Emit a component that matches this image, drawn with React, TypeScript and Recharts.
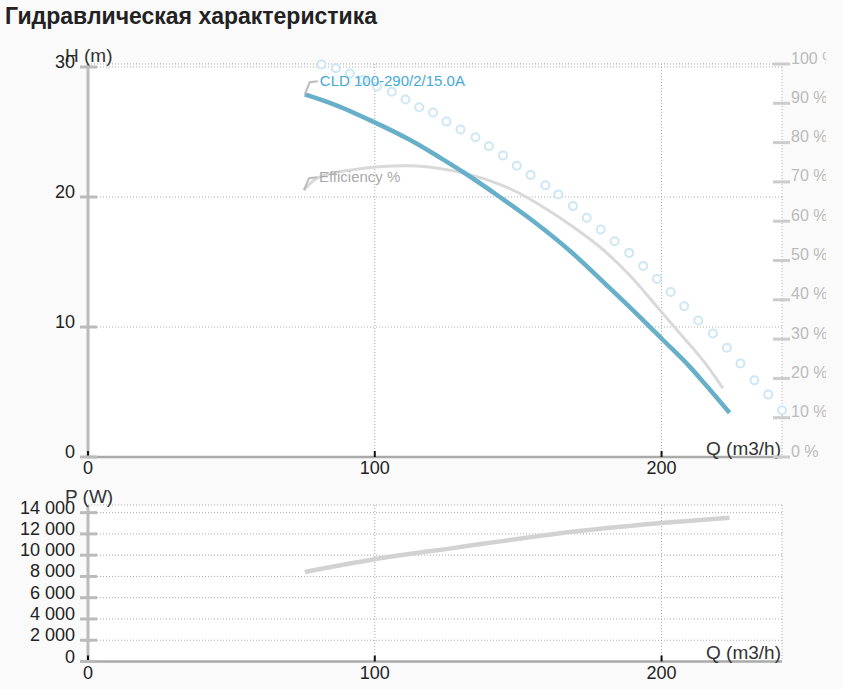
import React from 'react';
import { ComposedChart, Line, XAxis, YAxis, CartesianGrid } from 'recharts';

// ---------- text ----------
const TITLE = 'Гидравлическая характеристика';
const CURVE_NAME = 'CLD 100-290/2/15.0A';
const EFF_NAME = 'Efficiency %';
const H_LABEL = 'H (m)';
const P_LABEL = 'P (W)';
const Q_LABEL = 'Q (m3/h)';

// ---------- ticks ----------
const Q_TICKS = [0, 100, 200];
const H_TICKS = [0, 10, 20, 30];
const EFF_TICKS = [0, 10, 20, 30, 40, 50, 60, 70, 80, 90, 100];
const P_TICKS = [0, 2000, 4000, 6000, 8000, 10000, 12000, 14000];

// ---------- series: head curve H(Q) ----------
const H_Q = [75.6, 85.5, 99.4, 112.2, 122.6, 132.0, 143.6, 155.2, 169.1, 180.7, 192.3, 200.5, 209.8, 215.6, 223.7];
const H_VAL = [27.9, 27.15, 25.8, 24.4, 23.05, 21.75, 20.0, 18.15, 15.65, 13.25, 10.8, 9.0, 6.95, 5.5, 3.4];

// ---------- series: efficiency ----------
const EFF_Q = [75.3, 79.7, 91.3, 111.0, 126.1, 137.7, 149.4, 159.0, 169.1, 178.4, 188.8, 199.3, 207.4, 215.6, 221.4];
const EFF_VAL = [67.9, 70.9, 73.0, 74.1, 73.0, 70.9, 67.5, 63.5, 58.6, 53.5, 46.3, 37.5, 30.6, 23.5, 17.5];

// ---------- series: circles (max curve) ----------
const C_Q = [81.4, 86.4, 91.3, 95.9, 100.8, 105.9, 110.7, 115.5, 120.3, 125.0, 129.9, 135.1, 139.8, 144.7, 149.5, 154.3, 159.5, 164.0, 169.1, 173.9, 178.8, 183.6, 188.7, 193.6, 198.4, 203.2, 207.9, 212.8, 217.9, 222.8, 227.5, 232.4, 237.2, 242.0];
const C_H = [30.2, 29.9, 29.5, 29.0, 28.5, 28.1, 27.5, 26.9, 26.5, 25.8, 25.2, 24.6, 23.9, 23.2, 22.4, 21.7, 20.9, 20.2, 19.3, 18.4, 17.5, 16.6, 15.7, 14.7, 13.7, 12.7, 11.6, 10.5, 9.5, 8.4, 7.2, 5.9, 4.8, 3.6];

// ---------- series: power ----------
const P_Q = [75.6, 100, 128.4, 163.3, 200, 223.7];
const P_VAL = [8420, 9620, 10710, 12020, 13020, 13520];

const hData = H_Q.map((q, i) => ({ q, h: H_VAL[i] }));
const effData = EFF_Q.map((q, i) => ({ q, e: EFF_VAL[i] }));
const circleData = C_Q.map((q, i) => ({ q, h: C_H[i] }));
const pData = P_Q.map((q, i) => ({ q, p: P_VAL[i] }));

// ---------- layout ----------
const FONT = '"Liberation Sans", Arial, Helvetica, sans-serif';
const W = 826;
const LEFT_W = 88;
const RIGHT_W = 44;
const TOP1 = 64;
const PLOT1_H = 393;
const XAX1_H = 23;
const H1 = TOP1 + PLOT1_H + XAX1_H;
const TOP2 = 25;
const PLOT2_H = 156.5;
const XAX2_H = 27.5;
const H2 = TOP2 + PLOT2_H + XAX2_H;

const BLUE = '#68b0ca';
const BLUE_TEXT = '#45a9d4';
const CIRCLE = '#cde7f4';
const EFF_GRAY = '#d9d9d9';
const P_GRAY = '#d2d2d2';
const AXIS_GRAY = '#bbbbbb';
const TEXT = '#222222';

const fmtThousands = (v: number) => String(v).replace(/\B(?=(\d{3})+(?!\d))/g, ' ');

const LeftTick = (props: any) => {
  const { y, payload } = props;
  return (
    <g>
      <line x1={80} x2={97} y1={y} y2={y} stroke={AXIS_GRAY} strokeWidth={3} />
      <text x={75} y={y - 5} textAnchor="end" dominantBaseline="central" fontSize={18} fill={TEXT} fontFamily={FONT}>
        {fmtThousands(payload.value)}
      </text>
    </g>
  );
};

const RightTick = (props: any) => {
  const { y, payload } = props;
  return (
    <g>
      <line x1={773} x2={790} y1={y} y2={y} stroke="#cccccc" strokeWidth={3} />
      <text x={791} y={y - 6} textAnchor="start" dominantBaseline="central" fontSize={16} fill="#bbbbbb" fontFamily={FONT}>
        {`${payload.value} %`}
      </text>
    </g>
  );
};

const makeXTick = (axisY: number) => (props: any) => {
  const { x, payload } = props;
  return (
    <g>
      <line x1={x} x2={x} y1={axisY - 6} y2={axisY} stroke="#111" strokeWidth={2} />
      <text x={x} y={axisY + 11} textAnchor="middle" dominantBaseline="central" fontSize={18} fill={TEXT} fontFamily={FONT}>
        {payload.value}
      </text>
    </g>
  );
};

const makeQLabel = (axisY: number) => () => (
  <text x={781} y={axisY - 9} textAnchor="end" dominantBaseline="central" fontSize={19} fill="#333" fontFamily={FONT}>
    {Q_LABEL}
  </text>
);

const makeYLabel = (text: string, y: number) => () => (
  <text x={65} y={y} textAnchor="start" dominantBaseline="central" fontSize={19} fill="#333" fontFamily={FONT}>
    {text}
  </text>
);

const makeStartAnnotation = (text: string, color: string) => (props: any) => {
  const { cx, cy, index } = props;
  if (index !== 0 || cx == null || cy == null) return <g key={`a-${index}`} />;
  return (
    <g key={`a-${index}`}>
      <polyline
        points={`${cx},${cy} ${cx + 5},${cy - 12} ${cx + 13},${cy - 13}`}
        fill="none"
        stroke="#bbbbbb"
        strokeWidth={2}
      />
      <text x={cx + 15} y={cy - 14} dominantBaseline="central" fontSize={15} fill={color} fontFamily={FONT}>
        {text}
      </text>
    </g>
  );
};

export default function App() {
  return (
    <div
      style={{
        position: 'absolute',
        left: 0,
        top: 0,
        width: 843,
        height: 689,
        background: '#fafafa',
        overflow: 'hidden',
        fontFamily: FONT,
      }}
    >
      <div
        style={{
          position: 'absolute',
          left: 5,
          top: 3,
          fontSize: 23,
          lineHeight: '26px',
          fontWeight: 'bold',
          color: TEXT,
          whiteSpace: 'nowrap',
        }}
      >
        {TITLE}
      </div>

      <div style={{ position: 'absolute', left: 0, top: 0 }}>
        <ComposedChart width={W} height={H1} margin={{ top: TOP1, right: 0, bottom: 0, left: 0 }}>
          <CartesianGrid fill="#ffffff" stroke="#aaaaaa" strokeDasharray="1 2" />
          <XAxis
            type="number"
            dataKey="q"
            domain={[0, 242]}
            ticks={Q_TICKS}
            height={XAX1_H}
            axisLine={{ stroke: '#aaaaaa', strokeWidth: 2.5 }}
            tickLine={false}
            tick={makeXTick(TOP1 + PLOT1_H)}
            interval={0}
            label={{ content: makeQLabel(TOP1 + PLOT1_H) }}
          />
          <YAxis
            type="number"
            domain={[0, 30.23]}
            ticks={H_TICKS}
            width={LEFT_W}
            axisLine={{ stroke: AXIS_GRAY, strokeWidth: 3 }}
            tickLine={false}
            tick={LeftTick}
            interval={0}
            label={{ content: makeYLabel(H_LABEL, 55) }}
          />
          <YAxis
            yAxisId="eff"
            orientation="right"
            type="number"
            domain={[0, 100]}
            ticks={EFF_TICKS}
            width={RIGHT_W}
            axisLine={false}
            tickLine={false}
            tick={RightTick}
            interval={0}
          />
          <Line
            data={circleData}
            dataKey="h"
            stroke="none"
            dot={{ r: 4, stroke: CIRCLE, strokeWidth: 2, fill: '#ffffff' }}
            isAnimationActive={false}
            legendType="none"
          />
          <Line
            yAxisId="eff"
            data={effData}
            dataKey="e"
            type="monotone"
            stroke={EFF_GRAY}
            strokeWidth={3}
            dot={makeStartAnnotation(EFF_NAME, '#aaaaaa')}
            isAnimationActive={false}
          />
          <Line
            data={hData}
            dataKey="h"
            type="monotone"
            stroke={BLUE}
            strokeWidth={4.5}
            dot={makeStartAnnotation(CURVE_NAME, BLUE_TEXT)}
            isAnimationActive={false}
          />
        </ComposedChart>
      </div>

      <div style={{ position: 'absolute', left: 0, top: H1 }}>
        <ComposedChart width={W} height={H2} margin={{ top: TOP2, right: RIGHT_W, bottom: 0, left: 0 }}>
          <CartesianGrid fill="#ffffff" stroke="#aaaaaa" strokeDasharray="1 2" />
          <XAxis
            type="number"
            dataKey="q"
            domain={[0, 242]}
            ticks={Q_TICKS}
            height={XAX2_H}
            axisLine={{ stroke: '#aaaaaa', strokeWidth: 2.5 }}
            tickLine={false}
            tick={makeXTick(TOP2 + PLOT2_H)}
            interval={0}
            label={{ content: makeQLabel(TOP2 + PLOT2_H) }}
          />
          <YAxis
            type="number"
            domain={[0, 14720]}
            ticks={P_TICKS}
            width={LEFT_W}
            axisLine={{ stroke: AXIS_GRAY, strokeWidth: 3 }}
            tickLine={false}
            tick={LeftTick}
            interval={0}
            label={{ content: makeYLabel(P_LABEL, 16) }}
          />
          <Line
            data={pData}
            dataKey="p"
            type="monotone"
            stroke={P_GRAY}
            strokeWidth={4.5}
            dot={false}
            isAnimationActive={false}
          />
        </ComposedChart>
      </div>
    </div>
  );
}
